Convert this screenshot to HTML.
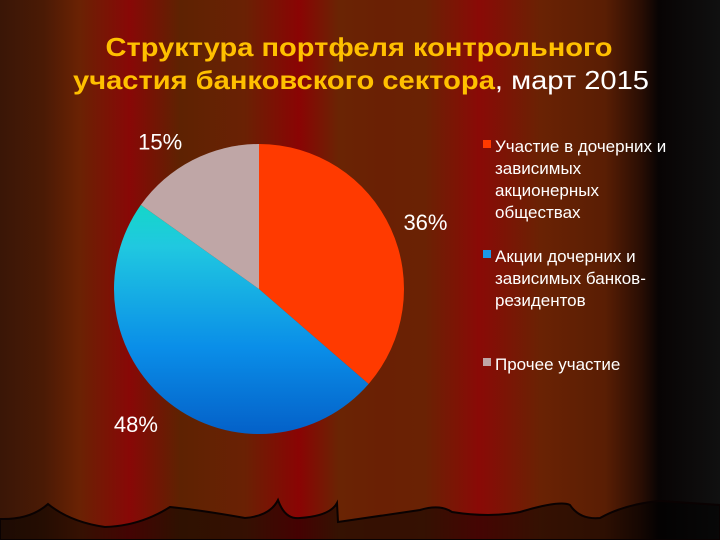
<!DOCTYPE html>
<html><head><meta charset="utf-8"><style>
html,body{margin:0;padding:0;background:#000}
svg{display:block}
</style></head><body>
<svg id="chart" width="720" height="540" viewBox="0 0 720 540" xmlns="http://www.w3.org/2000/svg" font-family="'Liberation Sans', 'DejaVu Sans', sans-serif">
<defs>
<linearGradient id="curtain" x1="0" x2="720" y1="0" y2="0" gradientUnits="userSpaceOnUse">
<stop offset="0" stop-color="#3a1606"/>
<stop offset="0.06" stop-color="#4a1a05"/>
<stop offset="0.11" stop-color="#6a2204"/>
<stop offset="0.18" stop-color="#880806"/>
<stop offset="0.25" stop-color="#5e2202"/>
<stop offset="0.34" stop-color="#6a2104"/>
<stop offset="0.415" stop-color="#8a0404"/>
<stop offset="0.47" stop-color="#6a2404"/>
<stop offset="0.53" stop-color="#6a2004"/>
<stop offset="0.59" stop-color="#6a2204"/>
<stop offset="0.665" stop-color="#8a0a06"/>
<stop offset="0.75" stop-color="#6a2204"/>
<stop offset="0.84" stop-color="#5a1e04"/>
<stop offset="0.89" stop-color="#2a0e04"/>
<stop offset="0.915" stop-color="#080404"/>
<stop offset="1" stop-color="#101010"/>
</linearGradient>
<linearGradient id="blueGrad" x1="0" y1="145" x2="0" y2="435" gradientUnits="userSpaceOnUse">
<stop offset="0.15" stop-color="#10dcc0"/>
<stop offset="0.35" stop-color="#20c8e0"/>
<stop offset="0.7" stop-color="#0a8ee8"/>
<stop offset="1" stop-color="#0460c8"/>
</linearGradient>
</defs>
<rect x="0" y="0" width="720" height="540" fill="url(#curtain)"/>
<path d="M0,519 Q30,520 48,504 Q70,522 105,527 Q140,526 170,507 Q200,510 245,518 Q270,516 278,500 Q285,520 300,518 Q330,516 337,503 L338,522 Q380,516 420,510 Q440,504 452,512 Q490,518 520,512 Q560,500 570,505 Q580,520 600,518 Q625,504 660,501 L720,505 L720,540 L0,540 Z" fill="#000" fill-opacity="0.5" stroke="#0a0202" stroke-width="2"/>
<g font-weight="bold" font-size="26" text-anchor="middle">
<text x="359" y="56" fill="#ffc000" textLength="507" lengthAdjust="spacingAndGlyphs">Структура портфеля контрольного</text>
<text x="361" y="89" fill="#ffc000" textLength="576" lengthAdjust="spacingAndGlyphs">участия банковского сектора<tspan font-weight="normal" fill="#ffffff">, март 2015</tspan></text>
</g>
<g id="pie"></g>
<g id="labels" fill="#ffffff" font-size="22"></g>
<g id="legend" fill="#ffffff" font-size="17"></g>
</svg>
<script>
const categories = ["Участие в дочерних и зависимых акционерных обществах","Акции дочерних и зависимых банков-резидентов","Прочее участие"];
const values = [36, 48, 15];
const valueLabels = ["36%","48%","15%"];
const legendLines = [["Участие в дочерних и","зависимых","акционерных","обществах"],["Акции дочерних и","зависимых банков-","резидентов"],["Прочее участие"]];
const colors = ["#ff3a00","url(#blueGrad)","#bfa6a6"];
const legendColors = ["#ff3a00","#1a9ae8","#bfa6a6"];
const NS = "http://www.w3.org/2000/svg";
const cx = 259, cy = 289, r = 145;
const total = values.reduce((a,b)=>a+b,0);
function pt(frac, rad){const a = frac*2*Math.PI - Math.PI/2; return [cx+rad*Math.cos(a), cy+rad*Math.sin(a)];}
const pie = document.getElementById('pie');
const labels = document.getElementById('labels');
const labelOffsets = [[0,17],[-10,-1],[-15,23]];
let acc = 0;
values.forEach((v,i)=>{
  const f0 = acc/total, f1 = (acc+v)/total; acc += v;
  const [x0,y0] = pt(f0,r), [x1,y1] = pt(f1,r);
  const large = (f1-f0) > 0.5 ? 1 : 0;
  const p = document.createElementNS(NS,'path');
  p.setAttribute('d',`M${cx},${cy} L${x0},${y0} A${r},${r} 0 ${large} 1 ${x1},${y1} Z`);
  p.setAttribute('fill',colors[i]);
  
  
  pie.appendChild(p);
  const [lx,ly] = pt((f0+f1)/2, r+38);
  const t = document.createElementNS(NS,'text');
  t.setAttribute('x', lx+labelOffsets[i][0]);
  t.setAttribute('y', ly+labelOffsets[i][1]);
  t.setAttribute('text-anchor','middle');
  t.textContent = valueLabels[i];
  
  
  labels.appendChild(t);
});
const legend = document.getElementById('legend');
const legendY = [146, 256, 364];
categories.forEach((c,i)=>{
  const g = document.createElementNS(NS,'g');
  
  
  const sq = document.createElementNS(NS,'rect');
  sq.setAttribute('x',483); sq.setAttribute('y',legendY[i]-6);
  sq.setAttribute('width',8); sq.setAttribute('height',8);
  sq.setAttribute('fill',legendColors[i]);
  
  
  g.appendChild(sq);
  legendLines[i].forEach((ln,j)=>{
    const t = document.createElementNS(NS,'text');
    t.setAttribute('x',495); t.setAttribute('y',legendY[i]+6+j*22);
    t.textContent = ln;
    
    
    g.appendChild(t);
  });
  legend.appendChild(g);
});
</script>
</body></html>
